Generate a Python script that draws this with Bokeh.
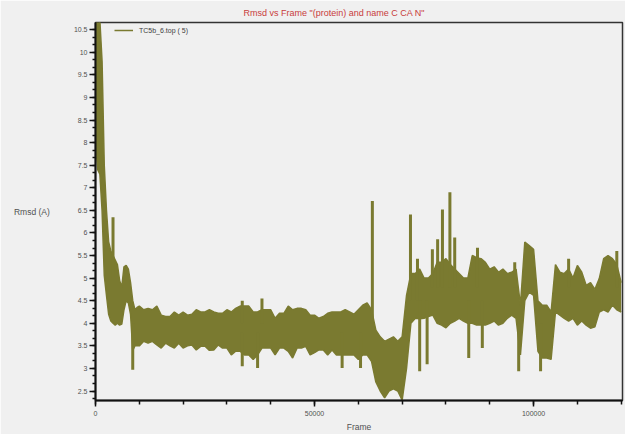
from bokeh.plotting import figure
from bokeh.models import (Range1d, SingleIntervalTicker, BasicTickFormatter,
                          Legend, LegendItem, ColumnDataSource)
from bokeh.embed import file_html
from bokeh.resources import INLINE

# ---- data (RMSD envelope per frame window) ----
frames = list(range(0, 10000, 500)) + list(range(10000, 121000, 1000))

rmsd_hi = [10.7, 10.7, 10.7, 9.8, 7.5, 6.5, 5.8, 5.6, 5.5, 5.4,
           5.3, 4.95, 4.8, 5.25, 5.28, 5.2, 4.9, 4.5, 4.3, 4.35,
           4.38, 4.3, 4.33, 4.3, 4.38, 4.18, 4.15, 4.15, 4.25, 4.18,
           4.25, 4.18, 4.2, 4.3, 4.25, 4.25, 4.3, 4.25, 4.22, 4.22,
           4.3, 4.25, 4.33, 4.38, 4.38, 4.38, 4.25, 4.25, 4.3, 4.3,
           4.3, 4.11, 4.22, 4.22, 4.38, 4.3, 4.33, 4.33, 4.3, 4.18,
           4.18, 4.11, 4.15, 4.22, 4.25, 4.25, 4.25, 4.3, 4.25, 4.2,
           4.3, 4.4, 4.45, 4.3, 3.85, 3.7, 3.6, 3.65, 3.7, 3.6,
           3.7, 4.62, 5.1, 5.1, 5.2, 5.0, 5.0, 5.1, 5.35, 5.35,
           5.43, 5.3, 5.2, 5.1, 5.0, 5.0, 5.5, 5.45, 5.43, 5.35,
           5.2, 5.25, 5.13, 5.2, 5.1, 5.13, 5.2, 4.4, 5.8, 5.72,
           5.64, 4.5, 4.4, 4.4, 4.25, 5.3, 5.13, 5.1, 5.2, 5.0,
           5.28, 5.13, 4.84, 4.9, 4.75, 4.99, 5.43, 5.5, 5.43, 5.3, 4.9]

rmsd_lo = [8.0, 7.4, 7.3, 6.5, 5.06, 4.62, 4.2, 4.05, 4.0, 3.96,
           4.0, 3.96, 3.98, 4.3, 4.5, 4.45, 4.2, 3.4, 3.5, 3.5,
           3.5, 3.6, 3.56, 3.6, 3.52, 3.45, 3.56, 3.5, 3.45, 3.56,
           3.45, 3.5, 3.52, 3.41, 3.49, 3.49, 3.4, 3.41, 3.52, 3.45,
           3.45, 3.3, 3.38, 3.38, 3.3, 3.3, 3.2, 3.3, 3.45, 3.45,
           3.45, 3.3, 3.45, 3.45, 3.38, 3.23, 3.45, 3.45, 3.49, 3.3,
           3.35, 3.41, 3.41, 3.3, 3.41, 3.3, 3.3, 3.3, 3.3, 3.3,
           3.2, 3.3, 3.3, 3.16, 2.7, 2.5, 2.35, 2.5, 2.55, 2.5,
           2.3, 3.0, 4.0, 4.11, 4.1, 4.11, 4.15, 4.18, 4.0, 3.96,
           3.9, 4.0, 4.05, 4.11, 4.05, 4.0, 4.0, 3.96, 3.96, 3.96,
           4.0, 4.05, 3.96, 4.0, 4.11, 4.18, 4.11, 3.3, 4.5, 4.69,
           4.62, 3.38, 3.23, 3.23, 3.2, 4.25, 4.18, 4.11, 4.05, 4.11,
           3.96, 4.05, 3.96, 3.89, 3.92, 4.25, 4.3, 4.25, 4.4, 4.3, 4.25]

spike_frames = [4000, 33500, 38000, 63200, 71900, 73500, 76900, 78100,
                79200, 80900, 82000, 87200, 95700, 108000, 119000]
spike_tops = [6.35, 4.5, 4.55, 6.71, 6.41, 5.43, 5.64, 5.86,
              6.52, 6.90, 5.9, 5.67, 5.35, 5.43, 5.6]
spike_bases = [5.0, 4.0, 4.0, 4.0, 4.5, 4.5, 4.8, 4.8,
               4.8, 4.8, 4.8, 4.8, 4.8, 4.8, 4.8]

dip_frames = [8500, 33500, 37000, 56300, 60500, 74000, 75700,
              85200, 88300, 96600, 101600]
dip_bottoms = [2.97, 3.05, 3.01, 3.01, 3.01, 2.94, 3.09,
               3.23, 3.45, 2.94, 2.94]
dip_tops = [4.0, 3.8, 3.8, 3.8, 3.8, 4.5, 4.5, 4.5, 4.5, 4.0, 4.0]

y_ticks = [2.5, 3, 3.5, 4, 4.5, 5, 5.5, 6, 6.5, 7, 7.5, 8, 8.5, 9, 9.5, 10, 10.5]
y_tick_labels = ["2.5", "3", "3.5", "4", "4.5", "5", "5.5", "6", "6.5",
                 "7", "7.5", "8", "8.5", "9", "9.5", "10", "10.5"]

title_text = 'Rmsd vs Frame "(protein) and name C CA N"'
series_name = "TC5b_6.top ( 5)"

OLIVE = "#7a7a30"
BG = "#f0f0f0"

p = figure(width=625, height=434, output_backend="svg", toolbar_location=None,
           x_range=Range1d(0, 120300), y_range=Range1d(2.29, 10.66),
           min_border_left=95, min_border_right=3, min_border_top=22,
           min_border_bottom=31)
p.background_fill_color = BG
p.border_fill_color = BG
p.outline_line_color = "#333333"
p.outline_line_width = 1.5
p.grid.visible = False

p.title.text = title_text
p.title.align = "left"
p.title.offset = 148
p.title.text_font = "Liberation Sans"
p.title.text_font_size = "9px"
p.title.text_font_style = "normal"
p.title.text_color = "#c83c3c"
p.title.standoff = 9

src = ColumnDataSource(dict(f=frames, hi=rmsd_hi, lo=rmsd_lo))
p.varea(x="f", y1="lo", y2="hi", source=src, fill_color=OLIVE)
hi_line = p.line("f", "hi", source=src, line_color=OLIVE, line_width=1.5)
p.line("f", "lo", source=src, line_color=OLIVE, line_width=1.5)
p.segment(x0=spike_frames, y0=spike_bases, x1=spike_frames, y1=spike_tops,
          line_color=OLIVE, line_width=3)
p.segment(x0=dip_frames, y0=dip_tops, x1=dip_frames, y1=dip_bottoms,
          line_color=OLIVE, line_width=3)

# axes
xa = p.xaxis[0]
xa.ticker = SingleIntervalTicker(interval=50000, num_minor_ticks=5)
xa.formatter = BasicTickFormatter(use_scientific=False)
ya = p.yaxis[0]
ya.ticker = SingleIntervalTicker(interval=0.5, num_minor_ticks=3)
ya.major_label_overrides = {t: l for t, l in zip(y_ticks, y_tick_labels)}

for ax in (xa, ya):
    ax.axis_line_color = "#111111"
    ax.axis_line_width = 2
    ax.major_tick_line_color = "#111111"
    ax.minor_tick_line_color = "#111111"
    ax.major_tick_line_width = 1.5
    ax.minor_tick_line_width = 1.5
    ax.major_tick_in = 0
    ax.minor_tick_in = 0
    ax.major_tick_out = 6
    ax.minor_tick_out = 3
    ax.major_label_text_font = "Liberation Sans"
    ax.major_label_text_font_size = "7px"
    ax.major_label_text_color = "#505050"
    ax.axis_label_text_font = "Liberation Sans"
    ax.axis_label_text_font_style = "normal"
    ax.axis_label_text_color = "#505050"
xa.minor_tick_out = 4
xa.major_label_standoff = 4
xa.axis_label = "Frame"
xa.axis_label_text_font_size = "8.5px"
xa.axis_label_standoff = 3
ya.major_label_standoff = 2
ya.axis_label = "Rmsd (A)"
ya.axis_label_text_font_size = "8.5px"
ya.axis_label_orientation = "horizontal"
ya.axis_label_standoff = 21

legend = Legend(items=[LegendItem(label=series_name, renderers=[hi_line])],
                location=(19, 365), padding=0, margin=0, spacing=0,
                glyph_width=19, glyph_height=10, label_height=10,
                label_standoff=6, border_line_color=None,
                background_fill_alpha=0,
                label_text_font="Liberation Sans",
                label_text_font_size="7px", label_text_color="#404040")
p.add_layout(legend)

open("out.html", "w").write(file_html(p, INLINE))
